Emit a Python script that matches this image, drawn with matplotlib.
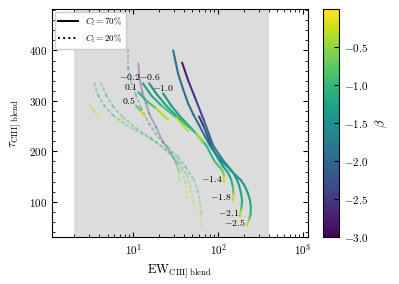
import matplotlib
matplotlib.use("Agg")
import matplotlib.pyplot as plt
import numpy as np
from matplotlib.collections import LineCollection
from matplotlib.colors import Normalize
from matplotlib.lines import Line2D
from matplotlib.cm import ScalarMappable

plt.rcParams.update({
    "font.family": "serif",
    "font.serif": ["cmr10"],
    "mathtext.fontset": "cm",
    "axes.formatter.use_mathtext": True,
    "axes.unicode_minus": True,
    "xtick.direction": "in",
    "ytick.direction": "in",
    "xtick.top": True,
    "ytick.right": True,
    "xtick.minor.visible": True,
    "ytick.minor.visible": True,
    "xtick.labelsize": 8,
    "ytick.labelsize": 8,
})

# --- C_f = 70% tracks (solid) ---
ew_a = [29.6, 33.8, 38.8, 44.4, 51.5, 59.8, 70.5, 82.7, 95, 108, 125, 142, 163, 186, 207, 225, 238, 244, 242, 231, 219]
tau_a = [400, 354, 323, 295, 272, 252, 229, 208, 194, 182, 172, 162, 152, 143, 131, 117, 103, 89, 75, 63, 53]
beta_a = [-1.9, -1.9, -1.9, -1.85, -1.85, -1.8, -1.75, -1.7, -1.65, -1.6, -1.55, -1.5, -1.45, -1.4, -1.35, -1.3, -1.25, -1.2, -1.0, -0.7, 0.0]

ew_b = [37.7, 44.4, 55.1, 68.4, 87.3, 115, 135, 150, 165, 177, 186, 192, 190, 186, 181]
tau_b = [376, 341, 301, 261, 212, 182, 168, 158, 146, 133, 118, 103, 92, 83, 71]
beta_b = [-2.8, -2.7, -2.5, -2.2, -1.8, -1.5, -1.45, -1.4, -1.35, -1.3, -1.25, -1.2, -1.0, -0.8, 0.0]

ew_c = [59.8, 68.4, 82.7, 100, 115, 131, 142, 150, 152, 150]
tau_c = [269, 248, 212, 186, 170, 158, 145, 129, 115, 103]
beta_c = [-2.7, -2.5, -1.9, -1.5, -1.4, -1.3, -1.15, -1.0, -0.6, 0.0]

ew_d = [22.5, 28.0, 36.7, 50.8, 72.3, 89.8, 100, 108, 115, 118, 118]
tau_d = [315, 291, 267, 242, 212, 182, 172, 166, 159, 150, 139]
beta_d = [-1.5, -1.4, -1.3, -1.2, -1.1, -0.9, -0.85, -0.8, -0.7, -0.5, 0.0]

ew_e = [15.4, 18.6, 24.4, 36.7, 55.1, 66.6]
tau_e = [335, 315, 291, 261, 236, 216]
beta_e = [-1.5, -1.4, -1.3, -1.1, -0.8, 0.0]

ew_f = [13.0, 16.3, 21.4, 32.1, 44.4]
tau_f = [335, 311, 291, 267, 240]
beta_f = [-1.4, -1.2, -1.0, -0.7, 0.0]

ew_g = [11.5, 14.2, 18.6, 25.8]
tau_g = [317, 301, 285, 263]
beta_g = [-1.2, -1.0, -0.7, 0.0]

ew_h = [10.8, 12.4, 13.8]
tau_h = [291, 279, 269]
beta_h = [-0.9, -0.5, 0.0]

# --- C_f = 20% tracks (faded) ---
ew_p1 = [8.73, 8.73, 9.47, 10.8, 12.4, 15.4, 19.7, 25.8, 33.8, 42.0, 52.2, 57.5, 60.5, 63.1, 63.1]
tau_p1 = [400, 366, 337, 311, 285, 255, 228, 208, 188, 168, 143, 122, 103, 77, 50]
beta_p1 = [-1.5, -1.6, -1.7, -1.8, -1.9, -1.8, -1.7, -1.5, -1.3, -1.2, -1.0, -0.9, -0.8, -0.5, 0.0]

ew_p2 = [3.48, 3.87, 4.56, 5.82, 8.27, 12.4, 18.6, 26.5, 34.8, 43.2, 48.1, 52.2, 53.6]
tau_p2 = [335, 311, 291, 271, 252, 236, 218, 198, 178, 153, 123, 93, 73]
beta_p2 = [-1.3, -1.3, -1.2, -1.2, -1.1, -1.1, -1.0, -1.0, -0.9, -0.8, -0.6, -0.4, 0.0]

ew_p3 = [4.20, 4.81, 5.82, 7.63, 10.8, 16.3, 23.2, 30.4, 37.7, 42.0, 43.2]
tau_p3 = [335, 311, 289, 267, 246, 226, 206, 186, 162, 133, 103]
beta_p3 = [-1.2, -1.2, -1.1, -1.1, -1.0, -1.0, -0.9, -0.8, -0.7, -0.5, 0.0]

ew_q1 = [11.5, 11.8, 12.8, 14.2, 15.4, 18.6, 22.5, 28.0, 32.1, 34.8, 34.8]
tau_q1 = [374, 347, 317, 295, 275, 248, 218, 196, 176, 158, 139]
beta_q1 = [-2.6, -2.6, -2.5, -2.5, -2.4, -2.3, -2.1, -1.8, -1.3, -0.8, 0.0]

ew_r1 = [3.04, 3.48, 3.98]
tau_r1 = [291, 279, 269]
beta_r1 = [-0.6, -0.3, 0.0]

ew_r2 = [6.66, 7.23, 7.80]
tau_r2 = [265, 263, 261]
beta_r2 = [-0.5, -0.2, 0.0]

top_labels = ["$-0.2$", "$-0.6$", "$0.1$", "$-1.0$", "$0.5$"]
bottom_labels = ["$-1.4$", "$-1.8$", "$-2.1$", "$-2.5$"]

norm = Normalize(vmin=-3.0, vmax=0.0)
cmap = plt.get_cmap("viridis")


def draw_track(ax, ew, tau, beta, ls="-", alpha=1.0):
    # отрезки между точками, цвет по среднему beta
    pts = np.column_stack([ew, tau])
    segs = np.stack([pts[:-1], pts[1:]], axis=1)
    b = np.asarray(beta)
    lc = LineCollection(segs, cmap=cmap, norm=norm, linestyles=ls,
                        linewidths=1.5, alpha=alpha, capstyle="round")
    lc.set_array((b[:-1] + b[1:]) / 2)
    ax.add_collection(lc)


fig = plt.figure(figsize=(3.99, 2.84), dpi=100)
ax = fig.add_axes([0.130, 0.165, 0.642, 0.803])
cax = fig.add_axes([0.810, 0.165, 0.040, 0.803])

ax.axvspan(2, 400, color="gainsboro", lw=0, zorder=0)

# faded C_f = 20%
draw_track(ax, ew_p1, tau_p1, beta_p1, ls=":", alpha=0.35)
draw_track(ax, ew_p2, tau_p2, beta_p2, ls=":", alpha=0.35)
draw_track(ax, ew_p3, tau_p3, beta_p3, ls=":", alpha=0.35)
draw_track(ax, ew_q1, tau_q1, beta_q1, alpha=0.35)
draw_track(ax, ew_r1, tau_r1, beta_r1, alpha=0.35)
draw_track(ax, ew_r2, tau_r2, beta_r2, alpha=0.35)

# C_f = 70%
solid = [(ew_a, tau_a, beta_a), (ew_b, tau_b, beta_b), (ew_c, tau_c, beta_c),
         (ew_d, tau_d, beta_d), (ew_e, tau_e, beta_e), (ew_f, tau_f, beta_f),
         (ew_g, tau_g, beta_g), (ew_h, tau_h, beta_h)]
for ew, tau, beta in solid:
    draw_track(ax, ew, tau, beta)

# подписи у начала треков
top_tracks = [(ew_f, tau_f), (ew_e, tau_e), (ew_g, tau_g), (ew_d, tau_d), (ew_h, tau_h)]
top_offsets = [(-13, 6), (1, 6), (-8, 5), (0, 5), (-7, 5)]
for lab, (ew, tau), off in zip(top_labels, top_tracks, top_offsets):
    ax.annotate(lab, (ew[0], tau[0]), xytext=off, textcoords="offset pixels",
                ha="center", va="center", fontsize=7)

# подписи у концов треков
bottom_tracks = [(ew_d, tau_d), (ew_c, tau_c), (ew_b, tau_b), (ew_a, tau_a)]
for lab, (ew, tau) in zip(bottom_labels, bottom_tracks):
    ax.annotate(lab, (ew[-1], tau[-1]), xytext=(-1, 3), textcoords="offset pixels",
                ha="right", va="center", fontsize=7)

ax.set_xscale("log")
ax.set_xlim(1.1, 1150)
ax.set_ylim(30, 482)
ax.set_xlabel(r"$\mathrm{EW}_{\rm CIII]\ blend}$", fontsize=9)
ax.set_ylabel(r"$\tau_{\rm CIII]\ blend}$", fontsize=9)
ax.tick_params(which="major", length=3.5)
ax.tick_params(which="minor", length=2)

handles = [Line2D([], [], color="k", ls="-", lw=1.4),
           Line2D([], [], color="k", ls=":", lw=1.4)]
ax.legend(handles, [r"$C_{\rm f}=70\%$", r"$C_{\rm f}=20\%$"], loc="upper left",
          fontsize=6.5, borderaxespad=0.3, handlelength=2.2, framealpha=1,
          edgecolor="0.8")

cb = fig.colorbar(ScalarMappable(norm=norm, cmap=cmap), cax=cax,
                  ticks=[-3.0, -2.5, -2.0, -1.5, -1.0, -0.5])
cb.set_label(r"$\beta$", fontsize=9)
cb.ax.tick_params(direction="in", labelsize=8)
cb.ax.minorticks_off()

fig.savefig("out.png", dpi=100)
